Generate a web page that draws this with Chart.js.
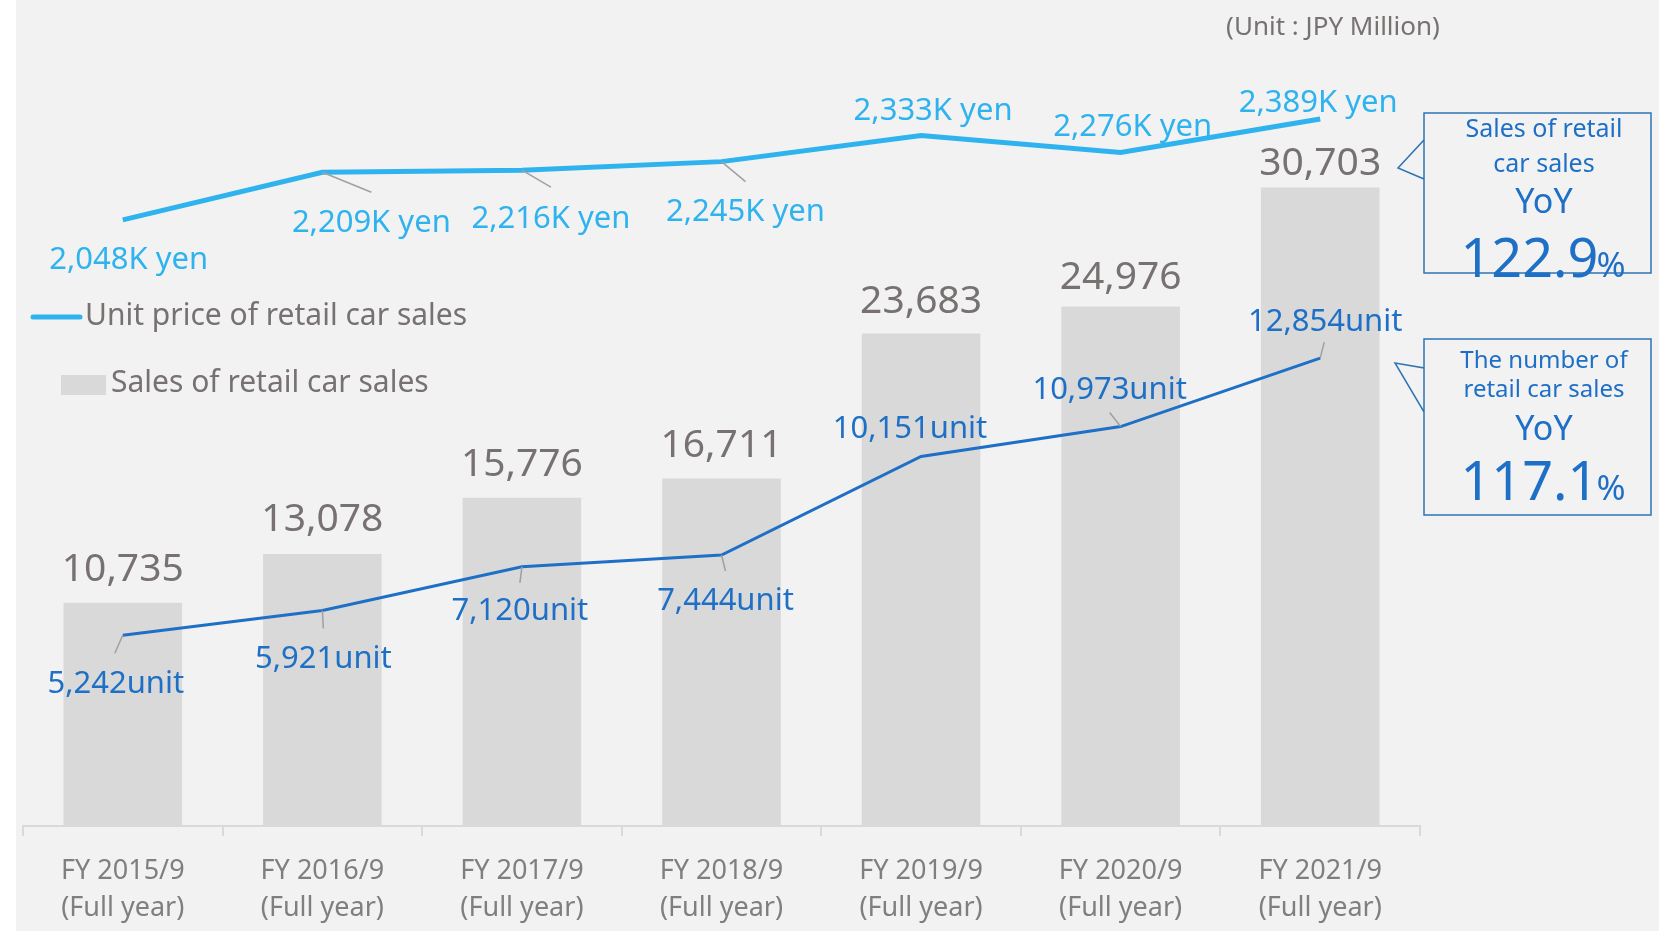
<!DOCTYPE html>
<html>
<head>
<meta charset="utf-8">
<title>Retail car sales</title>
<script src="https://cdn.jsdelivr.net/npm/chart.js@4/dist/chart.umd.min.js"></script>
<style>
    html, body { margin: 0; padding: 0; background: #ffffff; }
    #wrap { position: relative; width: 1659px; height: 931px; }
</style>
</head>
<body>
<div id="wrap"><canvas id="salesChart" width="1659" height="931"></canvas></div>
<script>
// Data
const categories = [
    ['FY 2015/9', '(Full year)'],
    ['FY 2016/9', '(Full year)'],
    ['FY 2017/9', '(Full year)'],
    ['FY 2018/9', '(Full year)'],
    ['FY 2019/9', '(Full year)'],
    ['FY 2020/9', '(Full year)'],
    ['FY 2021/9', '(Full year)']
];
const salesValues = [10735, 13078, 15776, 16711, 23683, 24976, 30703];   // JPY million
const unitCounts = [5242, 5921, 7120, 7444, 10151, 10973, 12854];
const unitPrices = [2048, 2209, 2216, 2245, 2333, 2276, 2389];           // K yen
const yoySales = '122.9';
const yoyUnits = '117.1';

// Colours / fonts
const FONT = '"Noto Sans", "Open Sans", sans-serif';
const BG = '#f2f2f2';
const BAR_COLOR = '#d9d9d9';
const PRICE_COLOR = '#2fb3ef';
const UNIT_COLOR = '#1e6fc6';
const GRAY_TEXT = '#777171';
const LEADER = '#a0a0a0';
const BOX_COLOR = '#2e75b6';
const TEXT_DY = 3; // canvas "middle" sits a bit high for this font

// Label offsets (px) relative to each point / bar top
const barLabelDy = [-36, -37, -36, -36, -35, -32, -26];
const priceLabelOff = [[6, 37], [49, 48], [29, 46], [24, 48], [12, -27], [12, -28], [-2, -19]];
const priceLeader = [null, [49, 20], [29, 17], [24, 20], null, null, null];
const unitLabelOff = [[-7, 46], [1, 46], [-2, 41], [4, 43], [-11, -30], [-11, -39], [5, -39]];
const unitLeader = [[-8, 18], [1, 18], [-2, 16], [4, 16], null, [-11, -14], [4, -16]];

const fmt = (v) => v.toLocaleString('en-US');

const text = (ctx, str, x, y, size, color, align = 'center') => {
    ctx.font = `${size}px ${FONT}`;
    ctx.fillStyle = color;
    ctx.textAlign = align;
    ctx.textBaseline = 'middle';
    ctx.fillText(str, x, y + TEXT_DY);
};

const leader = (ctx, x1, y1, x2, y2) => {
    ctx.strokeStyle = LEADER;
    ctx.lineWidth = 1.5;
    ctx.beginPath();
    ctx.moveTo(x1, y1);
    ctx.lineTo(x2, y2);
    ctx.stroke();
};

// Callout box with pointer on the left side
const callout = (ctx, box, pointer) => {
    const [l, t, r, b] = box;
    ctx.beginPath();
    ctx.moveTo(l, t);
    ctx.lineTo(r, t);
    ctx.lineTo(r, b);
    ctx.lineTo(l, b);
    ctx.lineTo(l, pointer[2]);
    ctx.lineTo(pointer[0], pointer[1]);
    ctx.lineTo(l, pointer[3]);
    ctx.closePath();
    ctx.fillStyle = BG;
    ctx.fill();
    ctx.strokeStyle = BOX_COLOR;
    ctx.lineWidth = 1.5;
    ctx.stroke();
};

const bigPercent = (ctx, value, cx, baseline) => {
    ctx.textBaseline = 'alphabetic';
    ctx.font = `54px ${FONT}`;
    const w1 = ctx.measureText(value).width;
    ctx.font = `35px ${FONT}`;
    const w2 = ctx.measureText('%').width;
    const x0 = cx - (w1 + w2) / 2;
    ctx.fillStyle = UNIT_COLOR;
    ctx.textAlign = 'left';
    ctx.font = `54px ${FONT}`;
    ctx.fillText(value, x0, baseline);
    ctx.font = `35px ${FONT}`;
    ctx.fillText('%', x0 + w1 - 2, baseline);
};

const decorPlugin = {
    id: 'decor',
    beforeDraw(chart) {
        const ctx = chart.ctx;
        ctx.save();
        ctx.fillStyle = '#ffffff';
        ctx.fillRect(0, 0, chart.width, chart.height);
        ctx.fillStyle = BG;
        ctx.fillRect(16, 0, chart.width - 16, chart.height);
        ctx.restore();
    },
    afterDatasetsDraw(chart) {
        const ctx = chart.ctx;
        ctx.save();
        const bars = chart.getDatasetMeta(0).data;
        const units = chart.getDatasetMeta(1).data;
        const prices = chart.getDatasetMeta(2).data;

        // bar values
        bars.forEach((el, i) => {
            text(ctx, fmt(salesValues[i]), el.x, el.y + barLabelDy[i], 39, GRAY_TEXT);
        });

        // unit count labels
        units.forEach((el, i) => {
            const ld = unitLeader[i];
            if (ld) leader(ctx, el.x, el.y, el.x + ld[0], el.y + ld[1]);
            const [dx, dy] = unitLabelOff[i];
            text(ctx, fmt(unitCounts[i]) + 'unit', el.x + dx, el.y + dy, 31, UNIT_COLOR);
        });

        // unit price labels
        prices.forEach((el, i) => {
            const ld = priceLeader[i];
            if (ld) leader(ctx, el.x, el.y, el.x + ld[0], el.y + ld[1]);
            const [dx, dy] = priceLabelOff[i];
            text(ctx, fmt(unitPrices[i]) + 'K yen', el.x + dx, el.y + dy, 31, PRICE_COLOR);
        });

        // legend
        ctx.strokeStyle = PRICE_COLOR;
        ctx.lineWidth = 5;
        ctx.lineCap = 'round';
        ctx.beginPath();
        ctx.moveTo(33, 317);
        ctx.lineTo(80, 317);
        ctx.stroke();
        ctx.lineCap = 'butt';
        text(ctx, chart.data.datasets[2].label, 85, 313, 30, GRAY_TEXT, 'left');
        ctx.fillStyle = BAR_COLOR;
        ctx.fillRect(61, 375, 45, 20);
        text(ctx, chart.data.datasets[0].label, 111, 380, 30, GRAY_TEXT, 'left');

        // unit note
        text(ctx, '(Unit : JPY Million)', 1333, 25, 26, GRAY_TEXT);

        // callouts
        callout(ctx, [1424, 113, 1651, 273], [1398, 168, 140, 179]);
        text(ctx, 'Sales of retail', 1544, 127, 25, UNIT_COLOR);
        text(ctx, 'car sales', 1544, 162, 25, UNIT_COLOR);
        text(ctx, 'YoY', 1544, 200, 34, UNIT_COLOR);
        bigPercent(ctx, yoySales, 1544, 277);

        callout(ctx, [1424, 339, 1651, 515], [1395, 363, 368, 412]);
        text(ctx, 'The number of', 1544, 358, 24, UNIT_COLOR);
        text(ctx, 'retail car sales', 1544, 387, 24, UNIT_COLOR);
        text(ctx, 'YoY', 1544, 427, 34, UNIT_COLOR);
        bigPercent(ctx, yoyUnits, 1544, 500);

        ctx.restore();
    }
};

const chart = new Chart(document.getElementById('salesChart').getContext('2d'), {
    type: 'bar',
    data: {
        labels: categories,
        datasets: [
            {
                type: 'bar',
                label: 'Sales of retail car sales',
                data: salesValues,
                backgroundColor: BAR_COLOR,
                borderWidth: 0,
                barPercentage: 0.594,
                categoryPercentage: 1,
                yAxisID: 'y',
                order: 3
            },
            {
                type: 'line',
                label: 'The number of retail car sales',
                data: unitCounts,
                borderColor: UNIT_COLOR,
                borderWidth: 3,
                pointRadius: 0,
                tension: 0,
                fill: false,
                yAxisID: 'y2',
                order: 2
            },
            {
                type: 'line',
                label: 'Unit price of retail car sales',
                data: unitPrices,
                borderColor: PRICE_COLOR,
                borderWidth: 5,
                pointRadius: 0,
                tension: 0,
                fill: false,
                yAxisID: 'y3',
                order: 1
            }
        ]
    },
    options: {
        responsive: false,
        devicePixelRatio: 1,
        animation: false,
        layout: { padding: { left: 23, right: 239, top: 98, bottom: 6 } },
        plugins: {
            legend: { display: false },
            tooltip: { enabled: false }
        },
        scales: {
            x: {
                offset: true,
                afterFit: (scale) => { scale.height = 99; },
                grid: {
                    offset: true,
                    drawOnChartArea: false,
                    tickLength: 10,
                    color: BAR_COLOR,
                    lineWidth: 2
                },
                border: { color: BAR_COLOR, width: 2 },
                ticks: {
                    color: '#7f7f7f',
                    padding: 16,
                    maxRotation: 0,
                    autoSkip: false,
                    font: { family: FONT, size: 27, lineHeight: 1.4 }
                }
            },
            y: { display: false, min: 0, max: 35000 },
            y2: { display: false, min: 0, max: 20000 },
            y3: { display: false, min: 0, max: 2460 }
        }
    },
    plugins: [decorPlugin]
});
</script>
</body>
</html>
